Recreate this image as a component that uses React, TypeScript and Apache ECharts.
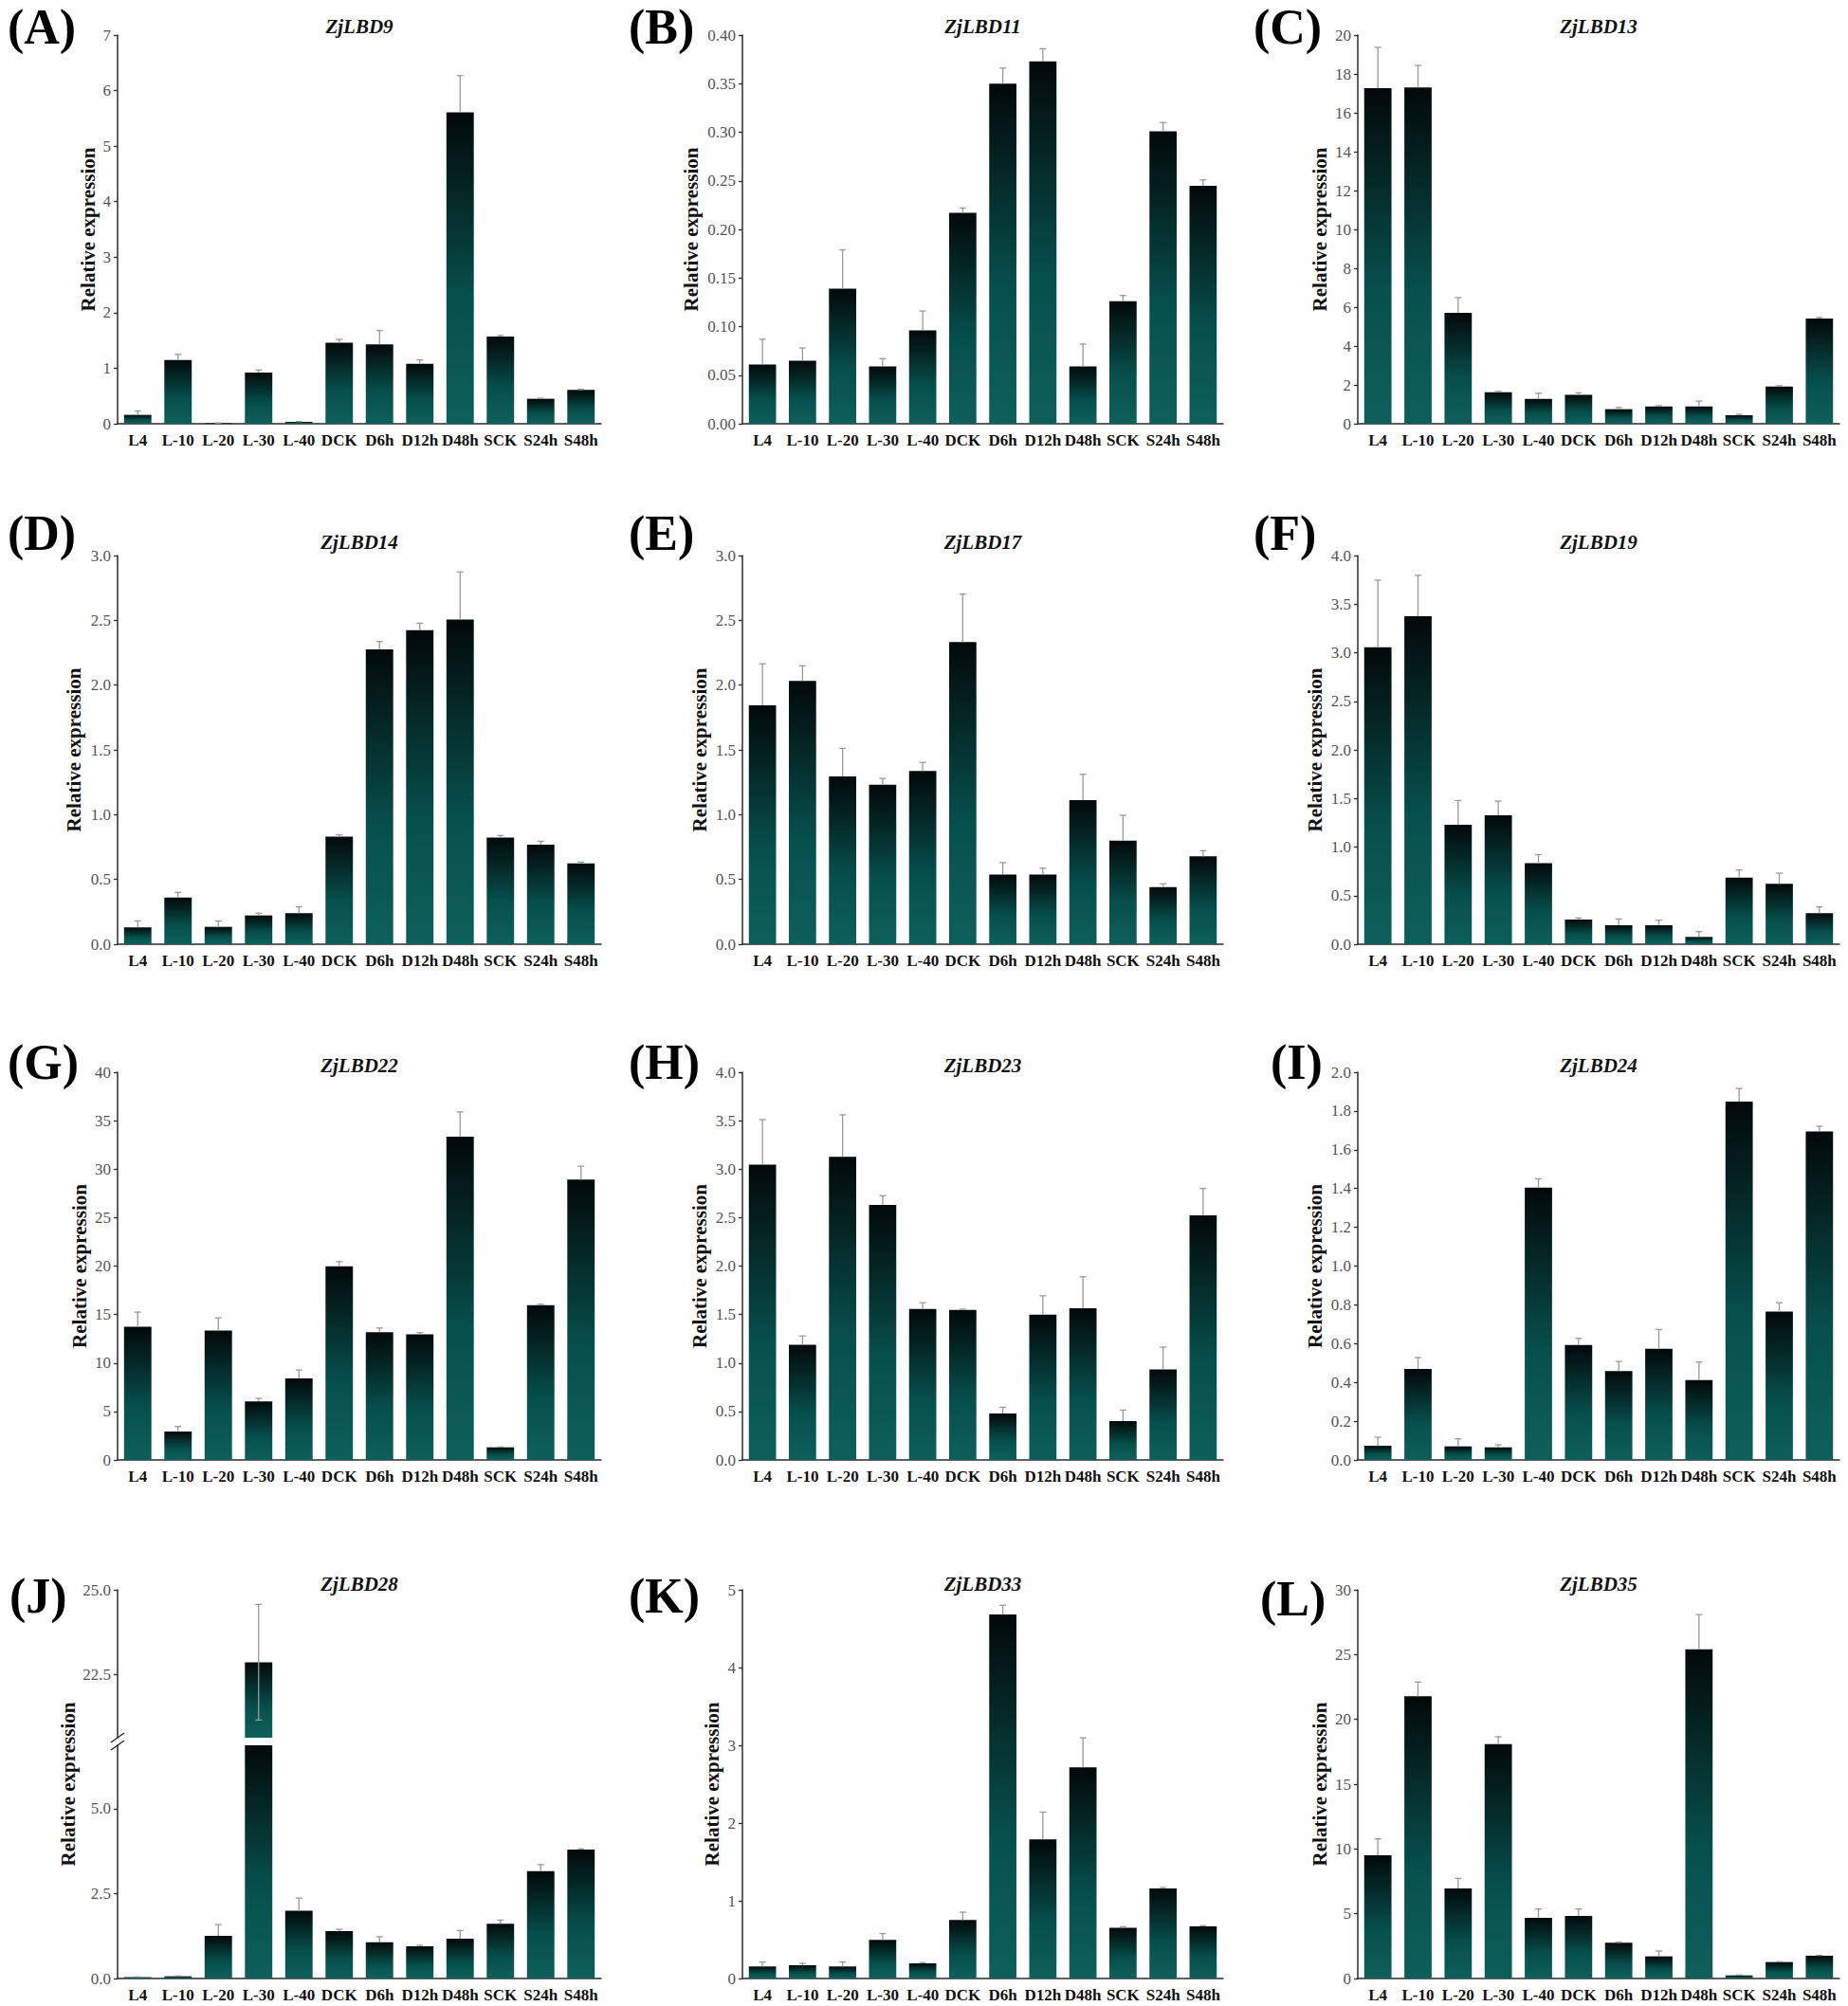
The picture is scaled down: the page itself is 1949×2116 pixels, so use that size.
import React, { useEffect, useRef } from 'react';
import * as echarts from 'echarts';

// ---------------- DATA ----------------
const categories = ['L4', 'L-10', 'L-20', 'L-30', 'L-40', 'DCK', 'D6h', 'D12h', 'D48h', 'SCK', 'S24h', 'S48h'];

const geneNames = ['ZjLBD9', 'ZjLBD11', 'ZjLBD13', 'ZjLBD14', 'ZjLBD17', 'ZjLBD19', 'ZjLBD22', 'ZjLBD23', 'ZjLBD24', 'ZjLBD28', 'ZjLBD33', 'ZjLBD35'];
const panelLetters = ['(A)', '(B)', '(C)', '(D)', '(E)', '(F)', '(G)', '(H)', '(I)', '(J)', '(K)', '(L)'];
const yAxisName = 'Relative expression';

const lbd9 = [0.16, 1.15, 0.01, 0.92, 0.035, 1.46, 1.43, 1.08, 5.61, 1.57, 0.45, 0.61];
const lbd9Err = [0.07, 0.1, 0.005, 0.05, 0.005, 0.06, 0.25, 0.07, 0.66, 0.02, 0.01, 0.01];

const lbd11 = [0.061, 0.065, 0.139, 0.059, 0.096, 0.217, 0.35, 0.373, 0.059, 0.126, 0.301, 0.245];
const lbd11Err = [0.026, 0.013, 0.04, 0.008, 0.02, 0.005, 0.016, 0.013, 0.023, 0.006, 0.009, 0.006];

const lbd13 = [17.27, 17.3, 5.71, 1.62, 1.28, 1.49, 0.75, 0.89, 0.89, 0.44, 1.92, 5.42];
const lbd13Err = [2.1, 1.14, 0.78, 0.05, 0.29, 0.1, 0.09, 0.04, 0.28, 0.05, 0.04, 0.05];

const lbd14 = [0.13, 0.36, 0.134, 0.222, 0.24, 0.83, 2.276, 2.424, 2.507, 0.824, 0.768, 0.624];
const lbd14Err = [0.05, 0.04, 0.045, 0.018, 0.048, 0.015, 0.06, 0.054, 0.366, 0.015, 0.027, 0.01];

const lbd17 = [1.844, 2.032, 1.295, 1.232, 1.337, 2.332, 0.537, 0.537, 1.112, 0.8, 0.44, 0.678];
const lbd17Err = [0.32, 0.117, 0.217, 0.048, 0.066, 0.37, 0.093, 0.05, 0.2, 0.195, 0.026, 0.044];

const lbd19 = [3.057, 3.376, 1.229, 1.327, 0.833, 0.254, 0.195, 0.195, 0.075, 0.686, 0.621, 0.319];
const lbd19Err = [0.69, 0.42, 0.25, 0.146, 0.088, 0.016, 0.065, 0.052, 0.055, 0.078, 0.11, 0.065];

const lbd22 = [13.75, 2.93, 13.36, 6.03, 8.4, 19.97, 13.19, 12.96, 33.36, 1.3, 15.96, 28.93];
const lbd22Err = [1.5, 0.52, 1.3, 0.32, 0.88, 0.49, 0.42, 0.17, 2.54, 0.05, 0.1, 1.37];

const lbd23 = [3.046, 1.189, 3.127, 2.632, 1.557, 1.547, 0.479, 1.498, 1.564, 0.4, 0.935, 2.524];
const lbd23Err = [0.465, 0.09, 0.433, 0.094, 0.065, 0.008, 0.065, 0.195, 0.326, 0.114, 0.228, 0.277];

const lbd24 = [0.073, 0.469, 0.07, 0.065, 1.405, 0.593, 0.459, 0.573, 0.412, 1.849, 0.765, 1.694];
const lbd24Err = [0.044, 0.059, 0.039, 0.013, 0.045, 0.034, 0.049, 0.1, 0.093, 0.067, 0.046, 0.027];

const lbd28 = [0.04, 0.065, 1.257, 22.87, 2.0, 1.397, 1.07, 0.95, 1.173, 1.61, 3.166, 3.8];
const lbd28Err = [0.01, 0.01, 0.33, 1.7, 0.37, 0.05, 0.16, 0.03, 0.24, 0.11, 0.19, 0.02];

const lbd33 = [0.155, 0.171, 0.155, 0.497, 0.195, 0.753, 4.682, 1.79, 2.716, 0.651, 1.16, 0.672];
const lbd33Err = [0.057, 0.024, 0.057, 0.081, 0.01, 0.1, 0.12, 0.35, 0.38, 0.015, 0.012, 0.008];

const lbd35 = [9.51, 21.78, 6.95, 18.1, 4.68, 4.83, 2.76, 1.71, 25.41, 0.24, 1.27, 1.76];
const lbd35Err = [1.27, 1.1, 0.78, 0.56, 0.68, 0.54, 0.05, 0.41, 2.68, 0.03, 0.03, 0.03];

const panelValues = [lbd9, lbd11, lbd13, lbd14, lbd17, lbd19, lbd22, lbd23, lbd24, lbd28, lbd33, lbd35];
const panelErrors = [lbd9Err, lbd11Err, lbd13Err, lbd14Err, lbd17Err, lbd19Err, lbd22Err, lbd23Err, lbd24Err, lbd28Err, lbd33Err, lbd35Err];

// y-axis scales (tick labels)
const yMaxes = [7, 0.4, 20, 3, 3, 4, 40, 4, 2, 25, 5, 30];
const yIntervals = [1, 0.05, 2, 0.5, 0.5, 0.5, 5, 0.5, 0.2, 2.5, 1, 5];
const yDecimals = [0, 2, 0, 1, 1, 1, 0, 1, 1, 1, 0, 0];

// broken axis of ZjLBD28 (panel J)
const brokenPanel = 9;
const brokenLowerMax = 6.87;
const brokenUpperMin = 20.65;
const brokenLowerTicks = [0, 2.5, 5.0];
const brokenUpperTicks = [22.5, 25.0];

// ---------------- LAYOUT ----------------
const W = 1949;
const H = 2116;
const colLeft = [124, 783, 1432];
const colWidth = [510, 507, 508];
const rowTop = [37, 586, 1131, 1677];
const rowBottom = [447, 996, 1540, 2087];
const nameGaps = [21, 44, 30, 36, 35, 35, 30, 35, 35, 42, 22, 30];
const letterX = [8, 663, 1322, 8, 663, 1322, 8, 663, 1340, 10, 663, 1329];
const letterY = [28, 28, 28, 562, 562, 562, 1120, 1120, 1120, 1683, 1683, 1686];
const titleDy = [-9, -9, -9, -14, -14, -14, -7, -7, -7, -6, -6, -6];
// J split: upper segment bottom / lower segment top
const jUpperBottom = 1833;
const jLowerTop = 1841;

const SERIF = '"Liberation Serif", "Times New Roman", Times, serif';
const AXIS_COLOR = '#2b2b2b';
const ERR_COLOR = '#9a9a9a';

const barGradient = () => ({
  type: 'linear',
  x: 0,
  y: 0,
  x2: 0,
  y2: 1,
  colorStops: [
    { offset: 0, color: '#020909' },
    { offset: 0.3, color: '#042c2a' },
    { offset: 0.6, color: '#06504c' },
    { offset: 1, color: '#0d5f5b' },
  ],
});

const errRender = (params: any, api: any) => {
  const x = api.value(0);
  const v = api.value(1);
  const e = api.value(2);
  const lower = api.value(3);
  const top = api.coord([x, v + e]);
  const bot = api.coord([x, lower ? v - e : v]);
  const cap = 3.5;
  const style = { stroke: ERR_COLOR, lineWidth: 1.3 };
  const children: any[] = [
    { type: 'line', shape: { x1: top[0], y1: top[1], x2: bot[0], y2: bot[1] }, style },
    { type: 'line', shape: { x1: top[0] - cap, y1: top[1], x2: top[0] + cap, y2: top[1] }, style },
  ];
  if (lower) {
    children.push({ type: 'line', shape: { x1: bot[0] - cap, y1: bot[1], x2: bot[0] + cap, y2: bot[1] }, style });
  }
  return { type: 'group', children };
};

function buildOption() {
  const grids: any[] = [];
  const xAxes: any[] = [];
  const yAxes: any[] = [];
  const series: any[] = [];
  const graphics: any[] = [];

  const axisLine = { show: true, lineStyle: { color: AXIS_COLOR, width: 1.5 } };
  const xLabel = { interval: 0, fontFamily: SERIF, fontWeight: 'bold', fontSize: 17, color: '#111', margin: 9 };
  const yLabelBase = { fontFamily: SERIF, fontSize: 17, color: '#555', margin: 7 };
  const yTick = { show: true, inside: false, length: 4, lineStyle: { color: AXIS_COLOR, width: 1.3 } };

  const addGrid = (left: number, top: number, width: number, height: number) => {
    grids.push({ left, top, width, height, containLabel: false });
    return grids.length - 1;
  };

  for (let i = 0; i < 12; i++) {
    const col = i % 3;
    const row = Math.floor(i / 3);
    const left = colLeft[col];
    const width = colWidth[col];
    const values = panelValues[i];
    const errs = panelErrors[i];
    const dec = yDecimals[i];
    const fmt = (v: number) => Number(v).toFixed(dec);

    if (i === brokenPanel) {
      // upper segment
      const gu = addGrid(left, rowTop[row], width, jUpperBottom - rowTop[row]);
      xAxes.push({ type: 'category', gridIndex: gu, data: categories, show: false });
      yAxes.push({
        type: 'value', gridIndex: gu, min: brokenUpperMin, max: yMaxes[i],
        splitLine: { show: false }, axisLine,
        axisTick: { ...yTick, customValues: brokenUpperTicks },
        axisLabel: { ...yLabelBase, formatter: fmt, customValues: brokenUpperTicks },
      });
      series.push({
        type: 'bar', xAxisIndex: gu, yAxisIndex: gu, barWidth: '68%',
        data: values.map((v) => (v > brokenUpperMin ? v : '-')),
        itemStyle: { color: barGradient() }, clip: true,
      });
      series.push({
        type: 'custom', xAxisIndex: gu, yAxisIndex: gu, z: 5, renderItem: errRender,
        data: values.map((v, j) => [j, v, errs[j], 1]).filter((d) => d[1] > brokenUpperMin),
      });
      // lower segment
      const gl = addGrid(left, jLowerTop, width, rowBottom[row] - jLowerTop);
      xAxes.push({
        type: 'category', gridIndex: gl, data: categories,
        axisLine, axisTick: { show: false }, axisLabel: xLabel,
      });
      yAxes.push({
        type: 'value', gridIndex: gl, min: 0, max: brokenLowerMax,
        splitLine: { show: false }, axisLine,
        axisTick: { ...yTick, customValues: brokenLowerTicks },
        axisLabel: { ...yLabelBase, formatter: fmt, customValues: brokenLowerTicks },
      });
      series.push({
        type: 'bar', xAxisIndex: gl, yAxisIndex: gl, barWidth: '68%',
        data: values, itemStyle: { color: barGradient() }, clip: true,
      });
      series.push({
        type: 'custom', xAxisIndex: gl, yAxisIndex: gl, z: 5, renderItem: errRender,
        data: values.map((v, j) => [j, v, errs[j], 0]).filter((d) => d[1] <= brokenLowerMax),
      });
      // axis name spanning both segments
      graphics.push({
        type: 'text', x: left - nameGaps[i] - 10, y: (rowTop[row] + rowBottom[row]) / 2, rotation: Math.PI / 2,
        style: {
          text: yAxisName, fontFamily: SERIF, fontWeight: 'bold', fontSize: 21, fill: '#111',
          align: 'center', verticalAlign: 'middle', textAlign: 'center', textVerticalAlign: 'middle',
        },
      });
      // break marks
      const bx = left;
      const by = (jUpperBottom + jLowerTop) / 2;
      [-4, 4].forEach((d) => {
        graphics.push({
          type: 'line',
          shape: { x1: bx - 7, y1: by + d + 5, x2: bx + 7, y2: by + d - 5 },
          style: { stroke: AXIS_COLOR, lineWidth: 1.5 },
        });
      });
    } else {
      const g = addGrid(left, rowTop[row], width, rowBottom[row] - rowTop[row]);
      xAxes.push({
        type: 'category', gridIndex: g, data: categories,
        axisLine, axisTick: { show: false }, axisLabel: xLabel,
      });
      yAxes.push({
        type: 'value', gridIndex: g, min: 0, max: yMaxes[i], interval: yIntervals[i],
        splitLine: { show: false }, axisLine, axisTick: yTick,
        axisLabel: { ...yLabelBase, formatter: fmt },
        name: yAxisName, nameLocation: 'middle', nameGap: nameGaps[i],
        nameTextStyle: { fontFamily: SERIF, fontWeight: 'bold', fontSize: 21, color: '#111' },
      });
      series.push({
        type: 'bar', xAxisIndex: g, yAxisIndex: g, barWidth: '68%',
        data: values, itemStyle: { color: barGradient() },
      });
      series.push({
        type: 'custom', xAxisIndex: g, yAxisIndex: g, z: 5, renderItem: errRender,
        data: values.map((v, j) => [j, v, errs[j], 0]),
      });
    }

    // gene title
    graphics.push({
      type: 'text', x: left + width / 2, y: rowTop[row] + titleDy[i],
      style: {
        text: geneNames[i], fontFamily: SERIF, fontWeight: 'bold', fontStyle: 'italic', fontSize: 21, fill: '#111',
        align: 'center', verticalAlign: 'middle', textAlign: 'center', textVerticalAlign: 'middle',
      },
    });
    // panel letter
    graphics.push({
      type: 'text', x: letterX[i], y: letterY[i],
      style: {
        text: panelLetters[i], fontFamily: SERIF, fontWeight: 'bold', fontSize: 52, fill: '#000',
        align: 'left', verticalAlign: 'middle', textAlign: 'left', textVerticalAlign: 'middle',
      },
    });
  }

  return {
    animation: false,
    backgroundColor: '#ffffff',
    grid: grids,
    xAxis: xAxes,
    yAxis: yAxes,
    series,
    graphic: { elements: graphics },
  };
}

export default function App() {
  const ref = useRef<HTMLDivElement>(null);
  useEffect(() => {
    if (!ref.current) return;
    const chart = echarts.init(ref.current, undefined, { renderer: 'svg' });
    chart.setOption(buildOption() as any);
    return () => chart.dispose();
  }, []);
  return (
    <div
      ref={ref}
      style={{ position: 'absolute', left: 0, top: 0, width: W, height: H, background: '#fff' }}
    />
  );
}
